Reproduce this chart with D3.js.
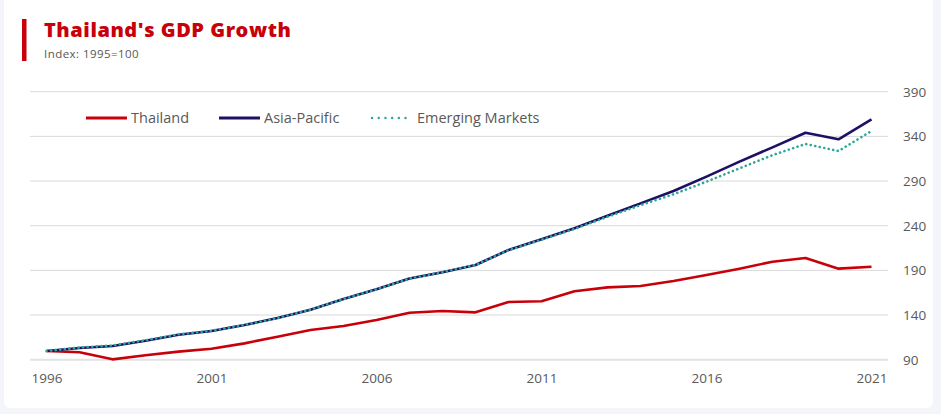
<!DOCTYPE html>
<html>
<head>
<meta charset="utf-8">
<script src="https://cdn.jsdelivr.net/npm/d3@7"></script>
<style>
  html, body { margin: 0; padding: 0; background: #f3f5fa; }
  svg { display: block; }
</style>
</head>
<body>
<svg id="chart" width="941" height="414"></svg>
<script>
// ---- data ----
const years = d3.range(1996, 2022);
const thailand = [99.7, 98.3, 90.4, 94.9, 99.0, 102.3, 108.3, 115.7, 123.2, 127.7, 134.4, 142.6, 144.5, 143.0, 154.6, 155.4, 166.6, 171.0, 172.5, 178.1, 184.8, 191.9, 199.7, 203.8, 191.9, 194.1];
const asiaPacific = [99.7, 103.1, 105.3, 111.3, 118.0, 122.1, 128.8, 136.7, 146.0, 157.9, 168.8, 180.8, 188.0, 196.0, 212.8, 224.8, 237.1, 251.2, 265.0, 278.9, 294.9, 311.7, 327.7, 344.1, 336.7, 359.1];
const emergingMarkets = [99.7, 103.6, 106.0, 111.8, 118.4, 122.4, 129.0, 136.7, 146.0, 157.9, 168.8, 180.8, 188.0, 196.0, 212.5, 224.3, 236.4, 250.0, 263.0, 275.2, 289.3, 304.2, 319.0, 331.5, 323.6, 346.0];
const yTicks = [90, 140, 190, 240, 290, 340, 390];
const xTickLabels = [1996, 2001, 2006, 2011, 2016, 2021];
const seriesNames = ["Thailand", "Asia-Pacific", "Emerging Markets"];

const series = [
  { name: seriesNames[0], values: thailand, color: "#c8000a", dotted: false },
  { name: seriesNames[1], values: asiaPacific, color: "#1e1064", dotted: false },
  { name: seriesNames[2], values: emergingMarkets, color: "#2ea89b", dotted: true }
];

const svg = d3.select("#chart");

// card
svg.append("rect").attr("x", 4).attr("y", -10).attr("width", 929).attr("height", 418)
  .attr("rx", 6).attr("fill", "#ffffff");

// title block
svg.append("rect").attr("x", 22).attr("y", 19).attr("width", 4.5).attr("height", 42).attr("fill", "#c8000a");
svg.append("text").attr("x", 44).attr("y", 37)
  .attr("font-family", "'Open Sans', sans-serif").attr("font-weight", 800).attr("font-size", 20)
  .attr("letter-spacing", 0.55)
  .attr("fill", "#c8000a").text("Thailand's GDP Growth");
svg.append("text").attr("x", 44).attr("y", 58)
  .attr("font-family", "'Open Sans', sans-serif").attr("font-size", 11.5)
  .attr("letter-spacing", 0.45)
  .attr("fill", "#555555").text("Index: 1995=100");

// scales
const x = d3.scalePoint().domain(years).range([30, 888]).padding(0.5);
const y = d3.scaleLinear().domain([90, 390]).range([359.7, 91.7]);

// grid
const grid = svg.append("g");
grid.selectAll("line").data(yTicks).join("line")
  .attr("x1", 30).attr("x2", 888)
  .attr("y1", d => y(d)).attr("y2", d => y(d))
  .attr("stroke", d => d === 90 ? "#e3e3e3" : "#d9d9d9")
  .attr("stroke-width", d => d === 90 ? 2 : 1);

// y axis (right)
const yAxis = svg.append("g").attr("transform", "translate(896,0)")
  .call(d3.axisRight(y).tickValues(yTicks).tickSize(0).tickPadding(7));
yAxis.select(".domain").remove();
yAxis.selectAll("text").attr("font-family", "'Open Sans', sans-serif").attr("font-size", 13.5).attr("fill", "#595959");

// x axis
const xAxis = svg.append("g").attr("transform", "translate(0,362)")
  .call(d3.axisBottom(x).tickValues(xTickLabels).tickSize(0).tickPadding(11));
xAxis.select(".domain").remove();
xAxis.selectAll("text").attr("font-family", "'Open Sans', sans-serif").attr("font-size", 13.5).attr("fill", "#595959");

// lines
const line = d3.line().x((d, i) => x(years[i])).y(d => y(d));
svg.append("g").selectAll("path").data(series).join("path")
  .attr("d", d => line(d.values))
  .attr("fill", "none")
  .attr("stroke", d => d.color)
  .attr("stroke-width", 2.6)
  .attr("stroke-dasharray", d => d.dotted ? "0.1 4.5" : null)
  .attr("stroke-linecap", d => d.dotted ? "round" : "butt")
  .attr("stroke-linejoin", "round");

// legend
const legendX = [86, 219, 372];
const lg = svg.append("g").selectAll("g").data(series).join("g")
  .attr("transform", (d, i) => `translate(${legendX[i]},118)`);
lg.append("line").attr("x1", 0).attr("x2", d => d.dotted ? 40 : 41).attr("y1", 0).attr("y2", 0)
  .attr("stroke", d => d.color).attr("stroke-width", d => d.dotted ? 2.4 : 2.8)
  .attr("stroke-dasharray", d => d.dotted ? "0.1 6.6" : null)
  .attr("stroke-linecap", d => d.dotted ? "round" : "butt");
lg.append("text").attr("x", 45).attr("y", 4.8)
  .attr("font-family", "'Open Sans', sans-serif").attr("font-size", 14.5).attr("fill", "#595959")
  .text(d => d.name);
</script>
</body>
</html>
